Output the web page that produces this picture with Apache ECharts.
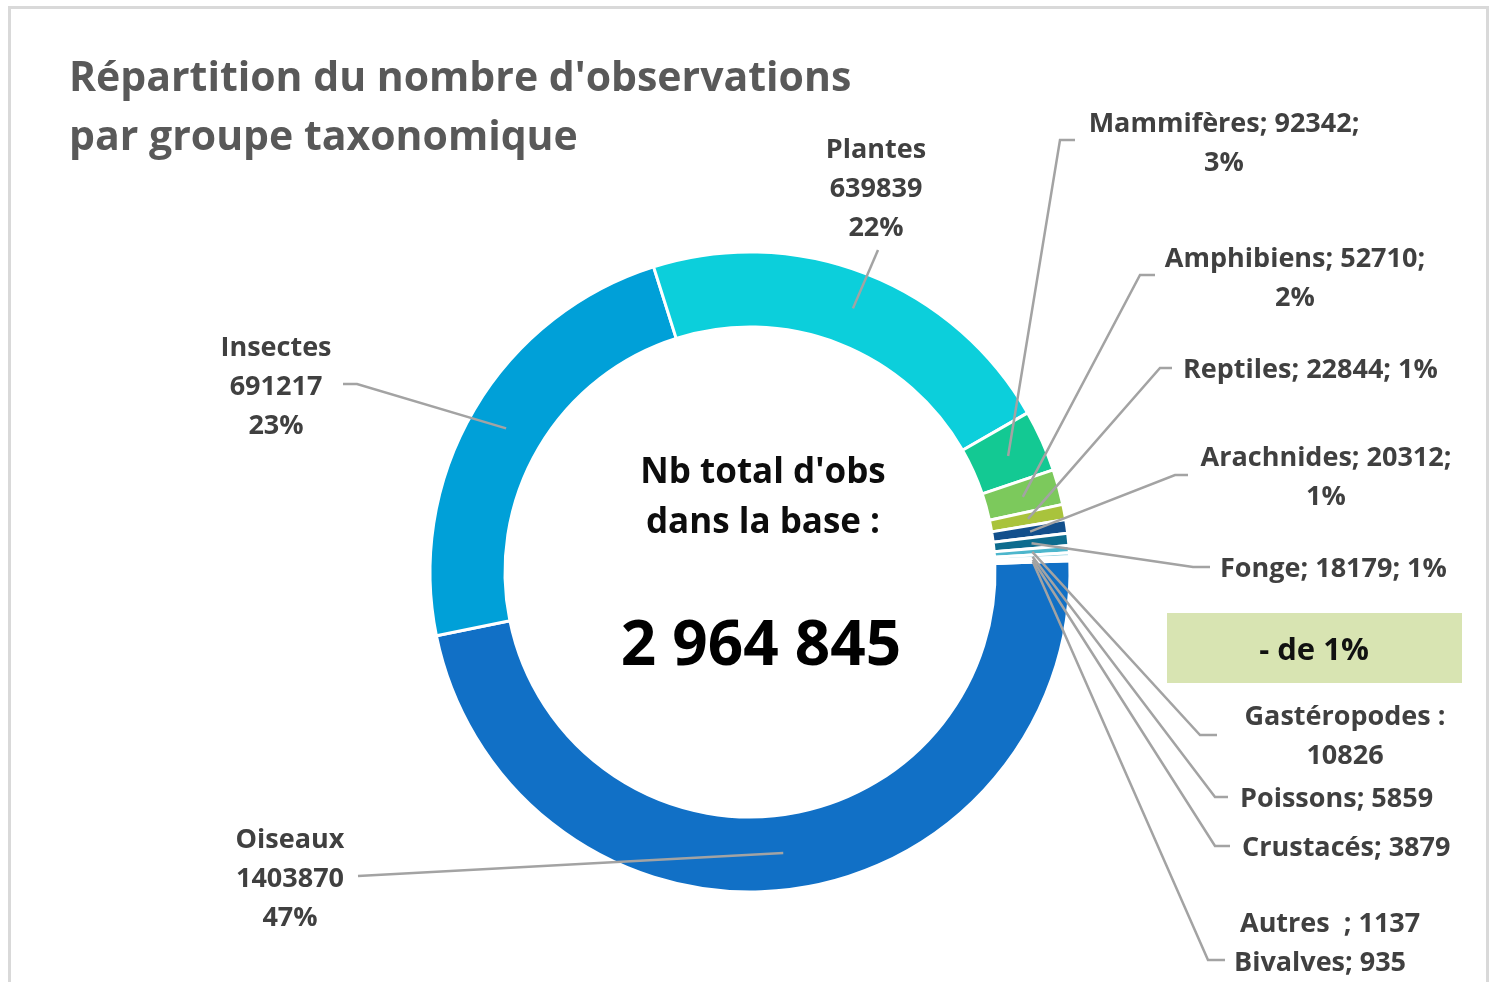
<!DOCTYPE html>
<html>
<head>
<meta charset="utf-8">
<script src="https://cdn.jsdelivr.net/npm/echarts@6/dist/echarts.min.js"></script>
<style>
html,body{margin:0;padding:0;background:#fff;}
#chart{width:1490px;height:982px;}
</style>
</head>
<body>
<div id="chart"></div>
<script>
// ---- data ----
const categories = ['Oiseaux','Insectes','Plantes','Mammifères','Amphibiens','Reptiles','Arachnides','Fonge','Gastéropodes','Poissons','Crustacés','Autres','Bivalves'];
const counts = [1403870, 691217, 639839, 92342, 52710, 22844, 20312, 18179, 10826, 5859, 3879, 1137, 935];
const labelFormats = [
  '#n\n#v\n#p%', '#n\n#v\n#p%', '#n\n#v\n#p%',
  '#n; #v;\n#p%', '#n; #v;\n#p%', '#n; #v; #p%', '#n; #v;\n#p%', '#n; #v; #p%',
  '#n :\n#v', '#n; #v', '#n; #v', '#n  ; #v', '#n; #v'
];
const totalLabel = '2 964 845';
const titleText = "Répartition du nombre d'observations\npar groupe taxonomique";
const centerCaption = "Nb total d'obs\ndans la base :";
const smallNote = '- de 1%';

// ---- styles / layout ----
const colors = ['#1170c6','#00a0d8','#0ccfdb','#13c993','#7cc95c','#a9c33c','#124f8c','#0d6c8e','#4cb6cc','#8fd1e0','#b9e3ec','#d6eff4','#e6f5f8'];
const CX = 750, CY = 572, R_IN = 245, R_OUT = 320, START = 2;
const R_ANCHOR = 283;
// [x, y, align, lineEndX, lineEndY, elbowX] ; elbowX null => straight line
const labelPos = [
  [290, 879, 'center', 358, 876, null],
  [276, 387, 'center', 343, 384, 357],
  [876, 189, 'center', 878, 250, null],
  [1224, 144, 'center', 1075, 140, 1060],
  [1295, 279, 'center', 1155, 275, 1140],
  [1183, 370, 'left', 1172, 368, 1160],
  [1326, 478, 'center', 1188, 475, 1175],
  [1220, 569, 'left', 1210, 567, 1193],
  [1345, 737, 'center', 1217, 735, 1200],
  [1240, 799, 'left', 1228, 797, 1215],
  [1242, 848, 'left', 1230, 846, 1215],
  [1240, 924, 'left', null, null, null],
  [1234, 963, 'left', 1225, 960, 1208]
];

const total = counts.reduce((a, b) => a + b, 0);
const anchors = [];
{
  let acc = 0;
  counts.forEach(v => {
    const midDeg = -START + (acc + v / 2) / total * 360;
    const a = midDeg * Math.PI / 180;
    anchors.push([CX + R_ANCHOR * Math.cos(a), CY + R_ANCHOR * Math.sin(a)]);
    acc += v;
  });
}

const FONT = '"Open Sans", "Noto Sans", sans-serif';
const LINE_COLOR = '#a3a3a3';

const leaderLines = [];
labelPos.forEach((L, i) => {
  if (L[3] === null) return;
  const pts = [anchors[i]];
  if (L[5] !== null) pts.push([L[5], L[4]]);
  pts.push([L[3], L[4]]);
  leaderLines.push({
    type: 'polyline', z: 10, silent: true,
    shape: {points: pts},
    style: {stroke: LINE_COLOR, lineWidth: 2.5, fill: null}
  });
});

const chart = echarts.init(document.getElementById('chart'), null, {renderer: 'canvas'});

chart.setOption({
  backgroundColor: '#ffffff',
  animation: false,
  title: {
    text: titleText,
    left: 64, top: 45,
    textStyle: {fontFamily: FONT, fontSize: 41, fontWeight: 700, color: '#595959', lineHeight: 59}
  },
  graphic: [
    {type: 'rect', shape: {x: 9.5, y: 7.5, width: 1478, height: 1010}, style: {fill: 'none', stroke: '#d9d9d9', lineWidth: 3}, silent: true},
    {type: 'rect', shape: {x: 1167, y: 613, width: 295, height: 70}, style: {fill: '#d8e4b2'}, silent: true},
    {type: 'text', x: 1314, y: 651, style: {text: smallNote, fill: '#111', font: '700 31px ' + FONT, textAlign: 'center', textVerticalAlign: 'middle'}},
    {type: 'text', x: 763, y: 498, style: {text: centerCaption, fill: '#0d0d0d', font: '700 35px ' + FONT, lineHeight: 50, textAlign: 'center', textVerticalAlign: 'middle'}},
    {type: 'text', x: 761, y: 647, style: {text: totalLabel, fill: '#000', font: 'bold 62px ' + FONT, textAlign: 'center', textVerticalAlign: 'middle'}}
  ].concat(leaderLines),
  series: [{
    type: 'pie',
    center: [CX, CY],
    radius: [R_IN, R_OUT],
    startAngle: START,
    clockwise: true,
    avoidLabelOverlap: false,
    data: categories.map((c, i) => ({
      name: c, value: counts[i],
      itemStyle: {color: colors[i]}
    })),
    itemStyle: {borderColor: '#ffffff', borderWidth: 3},
    label: {
      show: true,
      position: 'outside',
      fontFamily: FONT, fontSize: 27, fontWeight: 700, color: '#404040', lineHeight: 39,
      formatter: p => labelFormats[p.dataIndex]
        .replace('#n', p.name)
        .replace('#v', String(p.value))
        .replace('#p', String(Math.round(p.value / total * 100)))
    },
    labelLine: {show: false},
    labelLayout: params => {
      const L = labelPos[params.dataIndex];
      return {x: L[0], y: L[1], align: L[2], verticalAlign: 'middle'};
    },
    emphasis: {disabled: true}
  }]
});
</script>
</body>
</html>
